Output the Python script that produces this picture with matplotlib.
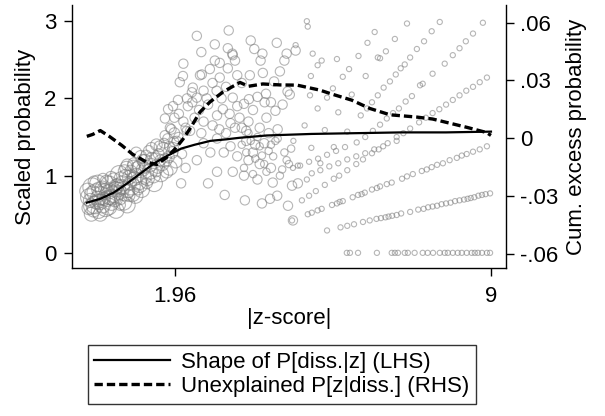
import matplotlib
matplotlib.use('Agg')
import matplotlib.pyplot as plt
from matplotlib.lines import Line2D

plt.rcParams['font.family'] = ['Liberation Sans', 'DejaVu Sans']

# shape of P[diss.|z] (LHS)
shape_z = [0.00, 0.30, 0.60, 0.90, 1.20, 1.50, 1.80, 2.10, 2.40, 2.75, 3.10, 3.40,
           4.00, 5.00, 6.00, 7.00, 8.00, 9.00]
shape_y = [0.65, 0.70, 0.78, 0.90, 1.03, 1.16, 1.26, 1.35, 1.40, 1.45, 1.47, 1.49,
           1.52, 1.54, 1.55, 1.56, 1.56, 1.57]

# unexplained P[z|diss.] (RHS)
unexp_z = [0.00, 0.13, 0.30, 0.50, 0.78, 1.02, 1.34, 1.56, 1.78, 1.96, 2.14, 2.29,
           2.52, 2.74, 3.03, 3.18, 3.41, 3.60, 3.92, 4.30, 4.68, 5.19, 5.45, 5.90,
           6.30, 6.75, 7.35, 7.70, 8.00, 8.46, 8.90, 9.00]
unexp_y = [0.0010, 0.0020, 0.0040, 0.0010, -0.0037, -0.0083, -0.0125, -0.0136,
           -0.0099, -0.0057, -0.0005, 0.0047, 0.0136, 0.0188, 0.0240, 0.0260,
           0.0290, 0.0270, 0.0282, 0.0277, 0.0276, 0.0250, 0.0230, 0.0198,
           0.0155, 0.0122, 0.0110, 0.0100, 0.0083, 0.0057, 0.0030, 0.0015]

# scatter: low |z| bins (many obs)
low_z = [0.05, 0.10, 0.12, 0.15, 0.20, 0.22, 0.25, 0.30, 0.32, 0.35, 0.40, 0.42, 0.45,
         0.50, 0.55, 0.58, 0.60, 0.65, 0.70, 0.72, 0.75, 0.80, 0.85, 0.88, 0.90, 0.95,
         1.00, 1.05, 1.08, 1.10, 1.15, 1.20, 1.22, 1.25, 1.30, 1.35, 1.38, 1.40, 1.45,
         1.50, 1.55, 1.58, 1.60, 1.65, 1.70, 1.75, 1.80, 1.85, 1.90, 1.95,
         0.02, 0.08, 0.18, 0.28, 0.38, 0.48, 0.52, 0.62, 0.68, 0.78, 0.82, 0.92, 0.98,
         1.02, 1.12, 1.18, 1.28, 1.32, 1.42, 1.48, 1.52, 1.62, 1.68, 1.72, 1.78, 1.82,
         1.88, 1.92, 1.98, 0.14, 0.24, 0.34, 0.44, 0.56, 0.66, 0.76, 0.86, 0.96, 1.06, 1.16,
         0.04, 0.16, 0.26, 0.36, 0.46, 0.54, 0.64, 0.74, 0.84, 0.94, 1.04, 1.14, 1.24,
         1.34, 1.44, 1.54, 1.64, 1.74, 1.84, 1.94, 2.04, 2.12, 2.22, 0.10, 0.30, 0.50,
         0.70, 0.90, 1.10, 1.30]
low_y = [0.72, 0.60, 0.85, 0.55, 0.78, 0.66, 0.90, 0.50, 0.74, 0.62, 0.82, 0.58, 0.70,
         0.88, 0.64, 0.76, 0.95, 0.55, 0.82, 1.02, 0.70, 0.90, 0.78, 1.10, 0.62, 0.98,
         0.86, 1.15, 0.74, 1.00, 0.92, 1.25, 0.82, 1.08, 1.18, 0.96, 1.32, 1.05, 1.22,
         0.90, 1.40, 1.12, 1.28, 1.02, 1.35, 1.20, 1.48, 1.10, 1.30, 1.55,
         0.80, 0.68, 0.62, 0.82, 0.70, 0.60, 0.80, 0.70, 0.88, 0.85, 0.66, 0.80, 1.06,
         0.76, 1.10, 0.88, 0.98, 1.26, 1.14, 1.00, 1.22, 1.38, 1.15, 1.42, 1.05, 1.24,
         1.60, 1.36, 1.18, 0.76, 0.70, 0.84, 0.92, 0.72, 0.86, 0.96, 1.00, 0.90, 0.96, 1.12,
         0.58, 0.92, 0.54, 0.96, 0.80, 0.98, 0.84, 0.62, 1.06, 0.74, 1.12, 0.82, 1.20,
         0.90, 1.36, 1.06, 1.20, 1.52, 1.38, 1.44, 1.50, 1.28, 1.58, 0.50, 0.66, 0.72,
         0.78, 1.14, 1.30, 1.10]
low_n = [150, 120, 180, 90, 160, 110, 140, 100, 170, 130, 80, 150, 120, 160, 100, 140,
         90, 130, 110, 150, 70, 120, 140, 90, 130, 100, 150, 80, 120, 110, 140, 70, 130,
         90, 110, 100, 60, 120, 80, 140, 70, 100, 60, 120, 80, 90, 50, 110, 70, 60,
         130, 100, 160, 120, 90, 150, 110, 130, 80, 120, 140, 90, 70, 110, 80, 120, 100,
         60, 90, 110, 70, 60, 90, 50, 80, 70, 50, 60, 80, 140, 120, 100, 90, 130, 110,
         100, 80, 90, 100, 80,
         90, 70, 110, 60, 80, 70, 90, 60, 80, 70, 80, 60, 70, 60, 60, 70, 60, 50, 50,
         50, 45, 45, 40, 100, 120, 110, 90, 70, 60, 60]

# scatter: middle |z| bins
mid_z = [2.45, 3.16, 2.85, 2.96, 3.14, 3.25, 3.30, 2.14, 2.52, 2.56, 2.74, 2.96, 3.14,
         2.89, 2.07, 2.36, 2.34, 2.03, 2.23, 2.45, 2.67, 1.81, 1.92, 1.74, 3.24, 3.73,
         3.91, 3.87, 4.23, 4.45, 4.40, 4.65, 3.63, 3.92, 4.17, 4.47, 4.52, 3.99, 3.61,
         3.96, 4.36, 4.20, 4.10, 3.25, 3.50, 3.03, 3.18, 3.40, 3.60, 3.85, 4.05, 2.80,
         2.95, 3.10, 3.30, 3.55, 3.75, 2.60, 2.40, 2.20, 2.55, 2.75, 3.05, 3.35, 3.60,
         3.85, 4.10, 2.70, 3.07, 2.10, 2.20, 2.45, 3.52, 3.90, 4.08, 4.24, 4.48, 4.59,
         4.14, 4.57, 4.70, 3.25, 3.50, 3.80, 2.90,
         1.85, 1.95, 2.05, 2.15, 2.25, 2.35, 2.50, 2.60, 2.70, 2.80, 2.90, 3.00, 3.10,
         3.20, 3.35, 3.45, 3.55, 3.70, 3.80, 4.00, 2.00, 2.30, 2.60, 2.90, 3.20, 3.45,
         3.70, 3.95, 4.25, 2.15, 2.55, 2.85, 3.35, 3.65, 4.30]
mid_y = [2.81, 2.88, 2.49, 2.46, 2.65, 2.56, 2.49, 2.29, 2.30, 2.31, 2.38, 2.27, 2.39,
         2.10, 2.21, 2.14, 2.08, 1.98, 2.00, 2.01, 2.00, 1.86, 1.90, 1.74, 2.58, 2.64,
         2.58, 2.49, 2.72, 2.58, 2.49, 2.62, 2.30, 2.33, 2.22, 2.09, 2.05, 2.06, 1.99,
         1.95, 1.92, 1.84, 1.95, 2.01, 1.93, 1.86, 1.80, 1.75, 1.70, 1.62, 1.55, 1.65,
         1.60, 1.55, 1.62, 1.45, 1.40, 1.70, 1.75, 1.62, 1.55, 1.30, 1.30, 1.25, 1.20,
         1.15, 1.10, 0.90, 0.75, 0.90, 1.10, 1.20, 0.68, 0.64, 0.70, 0.74, 0.61, 0.42,
         0.91, 0.87, 0.90, 1.05, 1.00, 0.95, 1.05,
         1.62, 1.75, 1.80, 1.70, 1.90, 1.95, 1.85, 2.10, 1.92, 2.20, 1.78, 2.00, 2.15,
         1.68, 1.90, 2.20, 1.58, 1.85, 2.02, 1.75, 1.45, 1.58, 1.42, 1.48, 1.38, 1.62,
         1.30, 1.42, 1.60, 2.45, 2.60, 2.70, 2.30, 2.75, 2.35]

# scatter: fan of high |z| bins (few obs each)
fan_z = [3.45, 3.55, 3.65, 3.75, 3.85, 3.95, 4.05, 4.15, 4.25, 4.35, 4.45, 4.55,
         3.50, 3.70, 3.90, 4.10, 4.30, 4.50, 3.60, 3.80, 4.00, 4.20, 4.40]
fan_y = [1.40, 1.30, 1.45, 1.22, 1.38, 1.15, 1.32, 1.25, 1.48, 1.08, 1.20, 1.35,
         1.10, 1.02, 1.26, 1.40, 1.00, 1.15, 1.55, 1.50, 1.05, 1.45, 1.30]

ray0_z = [5.79, 5.86, 6.04, 6.46, 6.79, 6.86, 6.93, 7.08, 7.15, 7.30, 7.48, 7.59, 7.71,
          7.86, 7.97, 8.04, 8.15, 8.26, 8.35, 8.46, 8.57, 8.64, 8.71, 8.80, 8.91, 8.98]
ray0_y = [0.00] * len(ray0_z)

ray1_z = [5.35, 5.65, 5.80, 5.95, 6.15, 6.30, 6.45, 6.55, 6.65, 6.72, 6.80, 6.90, 7.00,
          7.20, 7.38, 7.50, 7.60, 7.70, 7.80, 7.90, 8.00, 8.10, 8.20, 8.30, 8.40, 8.48,
          8.55, 8.63, 8.72, 8.80, 8.88, 8.98]
ray1_y = [0.29, 0.33, 0.35, 0.37, 0.40, 0.42, 0.44, 0.45, 0.46, 0.47, 0.48, 0.49, 0.51,
          0.53, 0.56, 0.57, 0.59, 0.60, 0.61, 0.63, 0.64, 0.65, 0.67, 0.68, 0.69, 0.70,
          0.71, 0.72, 0.74, 0.75, 0.76, 0.77]

ray2_z = [4.57, 4.92, 5.01, 5.14, 5.23, 5.46, 5.57, 5.63, 5.70, 5.92, 6.04, 6.12, 6.19,
          6.35, 6.46, 6.53, 6.68, 6.79, 7.02, 7.13, 7.26, 7.46, 7.57, 7.68, 7.80, 7.93,
          8.08, 8.24, 8.35, 8.46, 8.60, 8.75, 8.91]
ray2_y = [0.42, 0.50, 0.52, 0.55, 0.57, 0.62, 0.64, 0.66, 0.67, 0.72, 0.75, 0.76, 0.78,
          0.82, 0.84, 0.86, 0.89, 0.91, 0.96, 0.99, 1.02, 1.06, 1.08, 1.11, 1.14, 1.16,
          1.20, 1.23, 1.26, 1.28, 1.31, 1.34, 1.38]

ray3_z = [5.01, 5.20, 5.40, 5.60, 5.80, 6.00, 6.20, 6.40, 6.60, 6.90]
ray3_y = [1.03, 1.07, 1.12, 1.16, 1.21, 1.25, 1.29, 1.34, 1.38, 1.45]

ray4_z = [4.79, 4.95, 5.10, 5.30, 5.50, 5.62, 5.80, 6.00, 6.15, 6.35, 6.50, 6.70, 6.90,
          7.05, 7.20, 7.40, 7.55, 7.70, 7.85, 8.00, 8.15, 8.30, 8.45, 8.60, 8.75, 8.91]
ray4_y = [0.68, 0.74, 0.80, 0.88, 0.96, 1.00, 1.07, 1.15, 1.21, 1.29, 1.34, 1.42, 1.50,
          1.55, 1.61, 1.69, 1.75, 1.81, 1.86, 1.92, 1.98, 2.04, 2.10, 2.15, 2.21, 2.27]

ray5_z = [4.59, 4.75, 4.95, 5.15, 5.35, 5.55, 5.75, 6.01, 6.20, 6.37, 6.53, 6.68, 6.82,
          6.95, 7.10, 7.24, 7.42, 7.48, 7.70, 7.97, 8.15, 8.30, 8.44, 8.60, 8.82]
ray5_y = [1.10, 1.13, 1.18, 1.22, 1.27, 1.32, 1.37, 1.43, 1.50, 1.58, 1.66, 1.74, 1.81,
          1.87, 1.96, 2.03, 2.17, 2.19, 2.32, 2.45, 2.56, 2.65, 2.74, 2.84, 2.98]

ray6_z = [4.90, 5.20, 5.50, 5.80, 6.10, 6.24, 6.35, 6.48, 6.61, 6.75, 6.88, 6.99, 7.08,
          7.20, 7.35, 7.51, 7.68, 7.86]
ray6_y = [0.95, 1.16, 1.37, 1.57, 1.78, 1.87, 1.95, 2.04, 2.14, 2.22, 2.31, 2.39, 2.44,
          2.53, 2.64, 2.74, 2.87, 2.99]

ray7_z = [4.70, 5.00, 5.30, 5.60, 5.90, 6.21, 6.53, 6.66, 6.86, 7.13]
ray7_y = [1.13, 1.36, 1.59, 1.82, 2.05, 2.29, 2.52, 2.61, 2.77, 2.97]

ray8_z = [4.60, 4.85, 5.14, 5.35, 5.48, 5.70, 5.84, 6.05, 6.25, 6.41]
ray8_y = [1.45, 1.65, 1.87, 2.01, 2.13, 2.28, 2.38, 2.55, 2.72, 2.86]

ray9_z = [4.90, 4.92, 5.03, 5.23, 5.14, 4.65, 4.99, 4.97, 5.57, 6.48]
ray9_y = [3.00, 2.93, 2.58, 2.49, 2.43, 2.69, 2.29, 2.04, 2.51, 2.53]

x_ticks = [1.96, 9]
x_ticklabels = ['1.96', '9']
left_ticks = [0, 1, 2, 3]
right_ticks = [-0.06, -0.03, 0, 0.03, 0.06]
right_ticklabels = ['-.06', '-.03', '0', '.03', '.06']

fs = 16
fig = plt.figure(figsize=(6.05, 4.16), dpi=100)
ax = fig.add_axes([0.119, 0.356, 0.717, 0.632])
ax2 = ax.twinx()

circ = dict(facecolors='none', edgecolors='#7a7a7a', alpha=0.55, linewidths=0.8, zorder=1)
ax.scatter(low_z, low_y, s=low_n, **circ)
ax.scatter(mid_z, mid_y, s=45, **circ)
ax.scatter(fan_z, fan_y, s=28, **circ)
for rz, ry in [(ray0_z, ray0_y), (ray1_z, ray1_y), (ray2_z, ray2_y), (ray3_z, ray3_y),
               (ray4_z, ray4_y), (ray5_z, ray5_y), (ray6_z, ray6_y), (ray7_z, ray7_y),
               (ray8_z, ray8_y), (ray9_z, ray9_y)]:
    ax.scatter(rz, ry, s=14, **circ)

ax.plot(shape_z, shape_y, color='black', lw=1.6, zorder=3)
ax2.plot(unexp_z, unexp_y, color='black', lw=2.4, dashes=(2.5, 1.2), zorder=3)

ax.set_xlim(-0.33, 9.33)
ax.set_ylim(-0.195, 3.21)
ax2.set_ylim(-0.0673, 0.0692)

ax.set_xticks(x_ticks)
ax.set_xticklabels(x_ticklabels)
ax.set_yticks(left_ticks)
ax2.set_yticks(right_ticks)
ax2.set_yticklabels(right_ticklabels)

for a in (ax, ax2):
    a.spines['top'].set_visible(False)
ax.spines['right'].set_visible(False)
ax2.spines['left'].set_visible(False)
ax2.spines['bottom'].set_visible(False)
for sp in ('left', 'bottom'):
    ax.spines[sp].set_linewidth(1.0)
ax2.spines['right'].set_linewidth(1.0)

ax.tick_params(axis='both', labelsize=fs, length=6, width=1.0, pad=5)
ax.tick_params(axis='x', pad=7)
ax2.tick_params(axis='y', labelsize=fs, length=6, width=1.0, pad=4)

ax.set_xlabel('|z-score|', fontsize=fs, labelpad=1)
ax.set_ylabel('Scaled probability', fontsize=fs, labelpad=6)
ax2.set_ylabel('Cum. excess probability', fontsize=fs, labelpad=6)

handles = [Line2D([], [], color='black', lw=1.6),
           Line2D([], [], color='black', lw=2.4, dashes=(2.5, 1.2))]
labels = ['Shape of P[diss.|z] (LHS)', 'Unexplained P[z|diss.] (RHS)']
leg = fig.legend(handles, labels, loc='upper left', bbox_to_anchor=(0.145, 0.171),
                 fontsize=fs, frameon=True, fancybox=False, edgecolor='black',
                 handlelength=3.4, handletextpad=0.5, labelspacing=0.15,
                 borderpad=0.3, borderaxespad=0)
leg.get_frame().set_linewidth(1.0)

fig.savefig('out.png', dpi=100)
